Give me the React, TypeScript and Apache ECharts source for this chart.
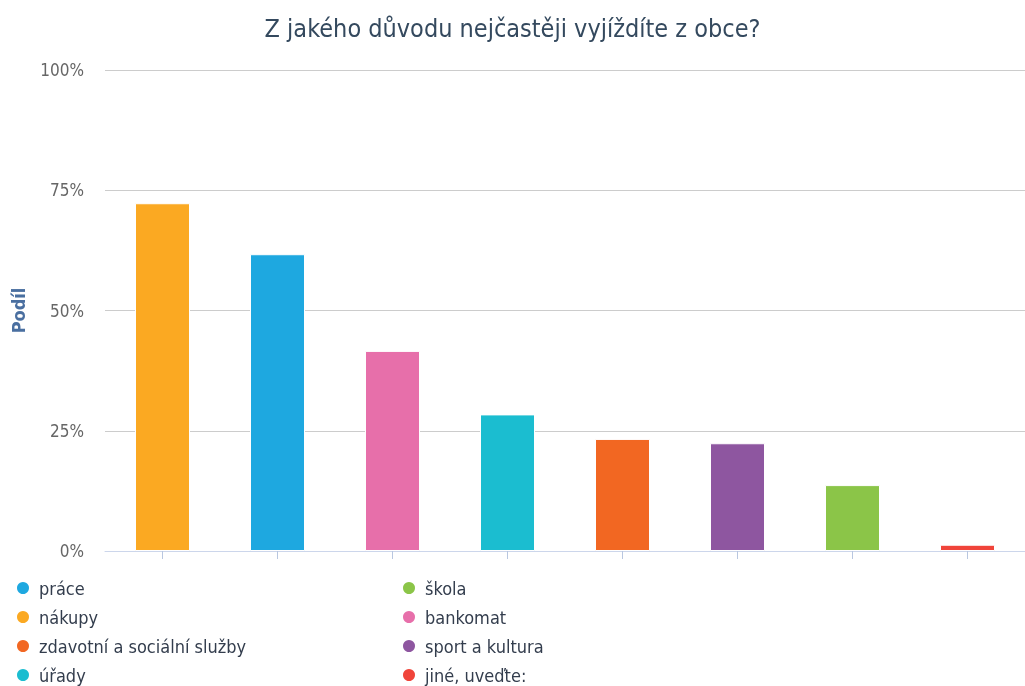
import React, { useEffect, useRef } from "react";
import * as echarts from "echarts";

// Bar order on the axis (sorted by value)
const categories = ["nákupy", "práce", "bankomat", "úřady", "zdavotní a sociální služby", "sport a kultura", "škola", "jiné, uveďte:"];
const values = [72.3, 61.7, 41.6, 28.4, 23.3, 22.4, 13.7, 1.3];
const colors = ["#FBA922", "#1EA8E0", "#E76FAA", "#1BBDD0", "#F26722", "#8E56A0", "#8BC548", "#F0443A"];
// Legend order (two columns)
const legendCol1 = ["práce", "nákupy", "zdavotní a sociální služby", "úřady"];
const legendCol2 = ["škola", "bankomat", "sport a kultura", "jiné, uveďte:"];
const yTicks = [0, 25, 50, 75, 100];

const FONT = "'DejaVu Sans Condensed', 'DejaVu Sans', sans-serif";

export default function App() {
  const ref = useRef<HTMLDivElement>(null);
  useEffect(() => {
    if (!ref.current) return;
    const chart = echarts.init(ref.current, undefined, { renderer: "svg" });
    const series = categories.map((name, i) => ({
      name,
      type: "bar",
      stack: "all",
      barWidth: 55,
      itemStyle: { color: colors[i], borderColor: "#ffffff", borderWidth: 1 },
      data: categories.map((_, j) => (j === i ? values[i] : "-")),
    }));
    const legendBase = {
      orient: "vertical",
      icon: "circle",
      itemWidth: 22,
      itemHeight: 14,
      itemGap: 11,
      top: 574,
      height: 140,
      textStyle: { fontFamily: FONT, fontSize: 18, lineHeight: 18, color: "#333d4d" },
    };
    chart.setOption({
      animation: false,
      title: {
        text: "Z jakého důvodu nejčastěji vyjíždíte z obce?",
        left: "center",
        top: 11,
        textStyle: { fontFamily: FONT, fontSize: 25, fontWeight: "normal", color: "#34495e" },
      },
      legend: [
        { ...legendBase, left: 10, data: legendCol1 },
        { ...legendBase, left: 396, data: legendCol2 },
      ],
      grid: { left: 105, right: 0, top: 70, bottom: 135, containLabel: false },
      xAxis: {
        type: "category",
        data: categories,
        axisLine: { lineStyle: { color: "#ccd6eb" } },
        axisTick: { show: true, interval: 0, alignWithLabel: true, length: 8, lineStyle: { color: "#b9c7e0", width: 1 } },
        axisLabel: { show: false, interval: 0 },
        z: 5,
      },
      yAxis: {
        type: "value",
        min: yTicks[0],
        max: yTicks[yTicks.length - 1],
        interval: 25,
        name: "Podíl",
        nameLocation: "middle",
        nameGap: 78,
        nameTextStyle: { fontFamily: FONT, fontSize: 18, fontWeight: "bold", color: "#4a6fa0" },
        axisLabel: { formatter: "{value}%", margin: 21, fontFamily: FONT, fontSize: 17, color: "#666666" },
        splitLine: { lineStyle: { color: "#cccccc", width: 1 } },
        axisLine: { show: false },
        axisTick: { show: false },
      },
      series,
    });
    return () => chart.dispose();
  }, []);
  return <div ref={ref} style={{ position: "fixed", left: 0, top: 0, width: 1025, height: 686 }} />;
}
